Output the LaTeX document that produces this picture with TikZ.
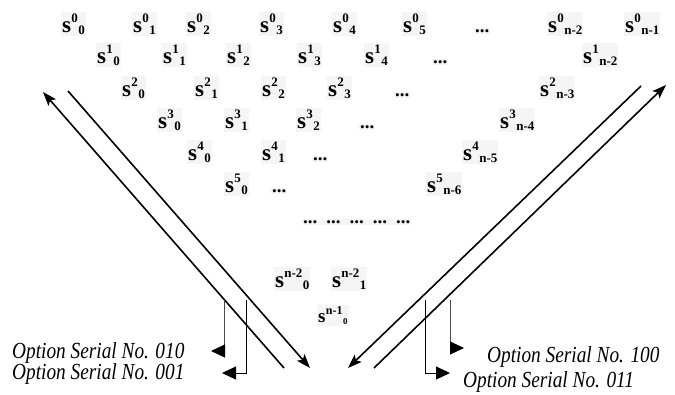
\documentclass[tikz,border=0pt]{standalone}
\usepackage{fontspec}
\setmainfont{Liberation Serif}
\usetikzlibrary{arrows.meta}
\newcommand{\labscr}{\fontsize{13}{13}\selectfont\bfseries}
\newcommand{\lab}[2]{\fontsize{23}{23}\selectfont\bfseries s\kern0.2pt\raisebox{10pt}{\labscr #1}\kern0.5pt\raisebox{-2.5pt}{\labscr #2}}
\newcommand{\labsmall}[2]{\fontsize{19}{19}\selectfont\bfseries s\kern0.3pt\raisebox{8pt}{\fontsize{12}{12}\selectfont\bfseries #1}\kern0.5pt\raisebox{-2pt}{\fontsize{9}{9}\selectfont\bfseries #2}}
\newcommand{\dotsgrp}{\fontsize{19}{19}\selectfont\bfseries ...}
\newcommand{\opt}[1]{\scalebox{0.84}[1]{\fontsize{23}{23}\selectfont\itshape Option Serial No. #1}}
\tikzset{
  lbl/.style={anchor=base west, inner xsep=1pt, inner ysep=1.5pt, fill=black!4},
  diag/.style={line width=1.6pt, -{Stealth[length=14pt,width=10pt,inset=3pt]}},
  elb/.style={line width=1pt, -{Triangle[length=14pt,width=13pt,color=black]}},
  opttext/.style={anchor=base west, inner sep=0pt},
}
\begin{document}
\begin{tikzpicture}[x=1pt,y=-1pt]
\useasboundingbox (0,0) rectangle (675,394);
% row 0
\node (r0c0) [lbl] at (61,32) {\lab{0}{0}};
\node (r0c1) [lbl] at (132,32) {\lab{0}{1}};
\node (r0c2) [lbl] at (186,32) {\lab{0}{2}};
\node (r0c3) [lbl] at (259,32) {\lab{0}{3}};
\node (r0c4) [lbl] at (332,32) {\lab{0}{4}};
\node (r0c5) [lbl] at (402,32) {\lab{0}{5}};
\node (r0d)  [lbl] at (474,32) {\dotsgrp};
\node (r0c6) [lbl] at (547,32) {\lab{0}{n-2}};
\node (r0c7) [lbl] at (624,32) {\lab{0}{n-1}};
% row 1
\node (r1c0) [lbl] at (96,63) {\lab{1}{0}};
\node (r1c1) [lbl] at (162,63) {\lab{1}{1}};
\node (r1c2) [lbl] at (226,63) {\lab{1}{2}};
\node (r1c3) [lbl] at (297,63) {\lab{1}{3}};
\node (r1c4) [lbl] at (364,63) {\lab{1}{4}};
\node (r1d)  [lbl] at (432,63) {\dotsgrp};
\node (r1c5) [lbl] at (582,63) {\lab{1}{n-2}};
% row 2
\node (r2c0) [lbl] at (121,96) {\lab{2}{0}};
\node (r2c1) [lbl] at (194,96) {\lab{2}{1}};
\node (r2c2) [lbl] at (261,96) {\lab{2}{2}};
\node (r2c3) [lbl] at (327,96) {\lab{2}{3}};
\node (r2d)  [lbl] at (394,96) {\dotsgrp};
\node (r2c4) [lbl] at (539,96) {\lab{2}{n-3}};
% row 3
\node (r3c0) [lbl] at (157,128) {\lab{3}{0}};
\node (r3c1) [lbl] at (224,128) {\lab{3}{1}};
\node (r3c2) [lbl] at (296,128) {\lab{3}{2}};
\node (r3d)  [lbl] at (359,128) {\dotsgrp};
\node (r3c3) [lbl] at (499,128) {\lab{3}{n-4}};
% row 4
\node (r4c0) [lbl] at (187,160) {\lab{4}{0}};
\node (r4c1) [lbl] at (261,160) {\lab{4}{1}};
\node (r4d)  [lbl] at (312,160) {\dotsgrp};
\node (r4c2) [lbl] at (462,160) {\lab{4}{n-5}};
% row 5
\node (r5c0) [lbl] at (224,192) {\lab{5}{0}};
\node (r5d)  [lbl] at (271,192) {\dotsgrp};
\node (r5c1) [lbl] at (426,192) {\lab{5}{n-6}};
% dots row
\node (dr) [lbl] at (302,223) {\dotsgrp\hspace{9pt}\dotsgrp\hspace{9pt}\dotsgrp\hspace{9pt}\dotsgrp\hspace{9pt}\dotsgrp};
% bottom rows
\node (rAc0) [lbl] at (274,287) {\lab{n-2}{0}};
\node (rAc1) [lbl] at (331,287) {\lab{n-2}{1}};
\node (rBc0) [lbl] at (317,322) {\labsmall{n-1}{0}};
% diagonal arrows
\coordinate (l1s) at (284,368);
\coordinate (l1e) at (43,92);
\coordinate (l2s) at (68,91);
\coordinate (l2e) at (310,368);
\coordinate (r1s) at (641,86);
\coordinate (r1e) at (348,368);
\coordinate (r2s) at (374,368);
\coordinate (r2e) at (666,85);
\draw[diag] (l1s) -- (l1e);
\draw[diag] (l2s) -- (l2e);
\draw[diag] (r1s) -- (r1e);
\draw[diag] (r2s) -- (r2e);
% elbow arrows
\coordinate (e1s) at (224,300);
\coordinate (e1e) at (211,351);
\coordinate (e2s) at (246,300);
\coordinate (e2e) at (222,373);
\coordinate (e3s) at (425,300);
\coordinate (e3e) at (450,373);
\coordinate (e4s) at (450,300);
\coordinate (e4e) at (464,348);
\draw[elb, black!70] (e1s) |- (e1e);
\draw[elb] (e2s) |- (e2e);
\draw[elb] (e3s) |- (e3e);
\draw[elb, black!70] (e4s) |- (e4e);
% texts
\node (t010) [opttext] at (12,358) {\opt{010}};
\node (t001) [opttext] at (12,379) {\opt{001}};
\node (t100) [opttext] at (487,362) {\opt{100}};
\node (t011) [opttext] at (463,387) {\opt{011}};
\end{tikzpicture}
\end{document}
